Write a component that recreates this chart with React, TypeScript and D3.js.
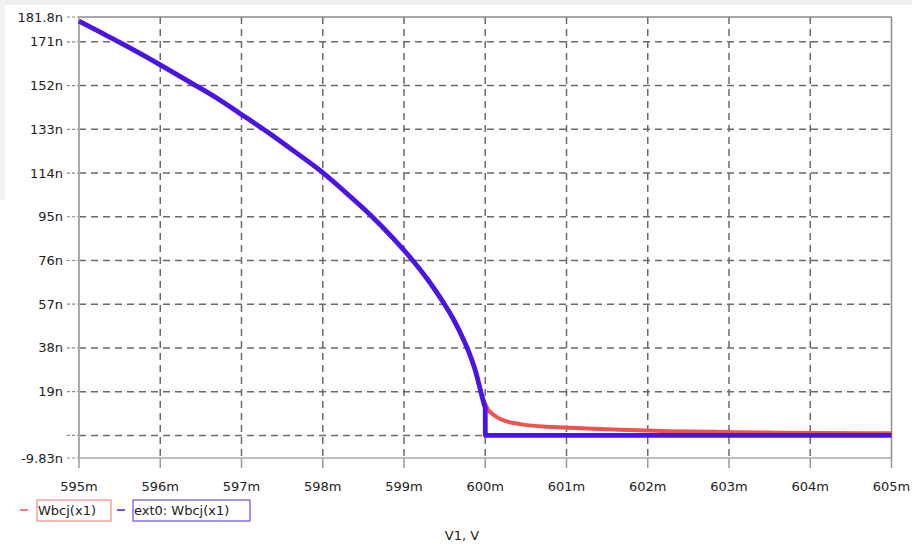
import React from "react";
import * as d3 from "d3";

// Shared part of both traces (V1 in mV, Wbcj in "n")
const vCommon = [595, 595.25, 595.5, 595.75, 596, 596.37, 596.7, 596.98, 597.32, 597.65, 597.97, 598.3, 598.58, 598.85, 599.08, 599.3, 599.48, 599.6, 599.69, 599.79, 599.88, 599.96];
const wCommon = [180, 175.4, 170.8, 166, 161, 153.4, 146.5, 139.9, 131.8, 123.4, 115, 105, 96, 86.3, 77.2, 67.3, 58, 51, 44.8, 36.9, 27.9, 17];

// Tail of the red trace Wbcj(x1)
const vRedTail = [599.99, 600.03, 600.1, 600.22, 600.43, 600.84, 601.26, 601.66, 602.28, 602.89, 603.5, 604.2, 605];
const wRedTail = [14.5, 11.5, 9.0, 6.6, 4.9, 3.6, 3.0, 2.4, 1.8, 1.5, 1.2, 1.0, 0.9];

// Tail of the blue trace ext0: Wbcj(x1)
const vBlueTail = [599.99, 600.0, 600.001, 605];
const wBlueTail = [13, 12, 0, 0];

const xTicks = [595, 596, 597, 598, 599, 600, 601, 602, 603, 604, 605];
const yTicks = [181.8, 171, 152, 133, 114, 95, 76, 57, 38, 19, 0, -9.83];
const yTickLabels = ["181.8n", "171n", "152n", "133n", "114n", "95n", "76n", "57n", "38n", "19n", "", "-9.83n"];

const seriesNames = ["Wbcj(x1)", "ext0: Wbcj(x1)"];
const seriesColors = ["#f0534c", "#4a14e6"];
const legendBoxColors = ["#f08a84", "#6650e0"];

const W = 912, H = 545;
const FONT = "'DejaVu Sans', Verdana, sans-serif";

export default function App() {
  const x = d3.scaleLinear().domain([595, 605]).range([79, 891.5]);
  const y = d3.scaleLinear().domain([-9.83, 181.8]).range([458, 17]);

  const red = [...vCommon.map((v, i) => [v, wCommon[i]]), ...vRedTail.map((v, i) => [v, wRedTail[i]])];
  const blue = [...vCommon.map((v, i) => [v, wCommon[i]]), ...vBlueTail.map((v, i) => [v, wBlueTail[i]])];

  const line = d3
    .line<number[]>()
    .x((d) => x(d[0]))
    .y((d) => y(d[1]))
    .curve(d3.curveMonotoneX);

  const [x0, x1] = x.range();
  const [yb, yt] = y.range();

  return (
    <svg width={W} height={H} style={{ position: "absolute", left: 0, top: 0, display: "block" }} fontFamily={FONT}>
      <rect x={0} y={0} width={W} height={H} fill="#ffffff" />
      <rect x={0} y={0} width={W} height={5} fill="#eeeeee" />
      <rect x={0} y={0} width={5} height={200} fill="#f2f2f2" />

      {/* horizontal grid */}
      {yTicks.map((t, i) => {
        const yy = y(t);
        const frame = i === 0 || i === yTicks.length - 1;
        return (
          <g key={"y" + i}>
            <line x1={67} x2={x0} y1={yy} y2={yy} stroke="#888" strokeWidth={1.2} strokeDasharray="3,2" />
            {!frame && (
              <line x1={x0} x2={x1} y1={yy} y2={yy} stroke="#6a6a6a" strokeWidth={1.5} strokeDasharray="7,5" />
            )}
            {yTickLabels[i] && (
              <text x={63} y={yy} dy="0.35em" textAnchor="end" fontSize={13} fill="#222">
                {yTickLabels[i]}
              </text>
            )}
          </g>
        );
      })}

      {/* vertical grid */}
      {xTicks.map((t, i) => {
        const xx = x(t);
        const frame = i === 0 || i === xTicks.length - 1;
        return (
          <g key={"x" + i}>
            <line x1={xx} x2={xx} y1={yb} y2={yb + 10} stroke="#999" strokeWidth={1.5} />
            {!frame && (
              <line x1={xx} x2={xx} y1={yt} y2={yb} stroke="#6a6a6a" strokeWidth={1.5} strokeDasharray="7,5" />
            )}
            <text x={xx} y={486} dy="0.35em" textAnchor="middle" fontSize={13} fill="#222">
              {t + "m"}
            </text>
          </g>
        );
      })}

      {/* frame */}
      <line x1={x0} x2={x1} y1={yt} y2={yt} stroke="#8a8a8a" strokeWidth={1.5} />
      <line x1={x0} x2={x1} y1={yb} y2={yb} stroke="#aaa" strokeWidth={1.5} />
      <line x1={x0} x2={x0} y1={yt} y2={yb} stroke="#aaa" strokeWidth={2} />
      <line x1={x1} x2={x1} y1={yt} y2={yb} stroke="#8a8a8a" strokeWidth={1.5} />

      {/* traces */}
      <path d={line(red) || ""} fill="none" stroke={seriesColors[0]} strokeWidth={4} strokeLinejoin="round" />
      <path d={line(blue) || ""} fill="none" stroke={seriesColors[1]} strokeWidth={4.8} strokeLinejoin="round" />

      {/* legend */}
      <g>
        <line x1={20} x2={28} y1={510} y2={510} stroke={seriesColors[0]} strokeWidth={1.5} />
        <rect x={37} y={500} width={74} height={21} fill="none" stroke={legendBoxColors[0]} strokeWidth={1.2} />
        <text x={38} y={510.5} dy="0.35em" fontSize={13} fill="#222">{seriesNames[0]}</text>
        <line x1={117} x2={125} y1={510} y2={510} stroke={seriesColors[1]} strokeWidth={1.5} />
        <rect x={133} y={500} width={117} height={21} fill="none" stroke={legendBoxColors[1]} strokeWidth={1.2} />
        <text x={134} y={510.5} dy="0.35em" fontSize={13} fill="#222">{seriesNames[1]}</text>
      </g>

      <text x={462} y={535} dy="0.35em" textAnchor="middle" fontSize={13} fill="#222">V1, V</text>
    </svg>
  );
}
